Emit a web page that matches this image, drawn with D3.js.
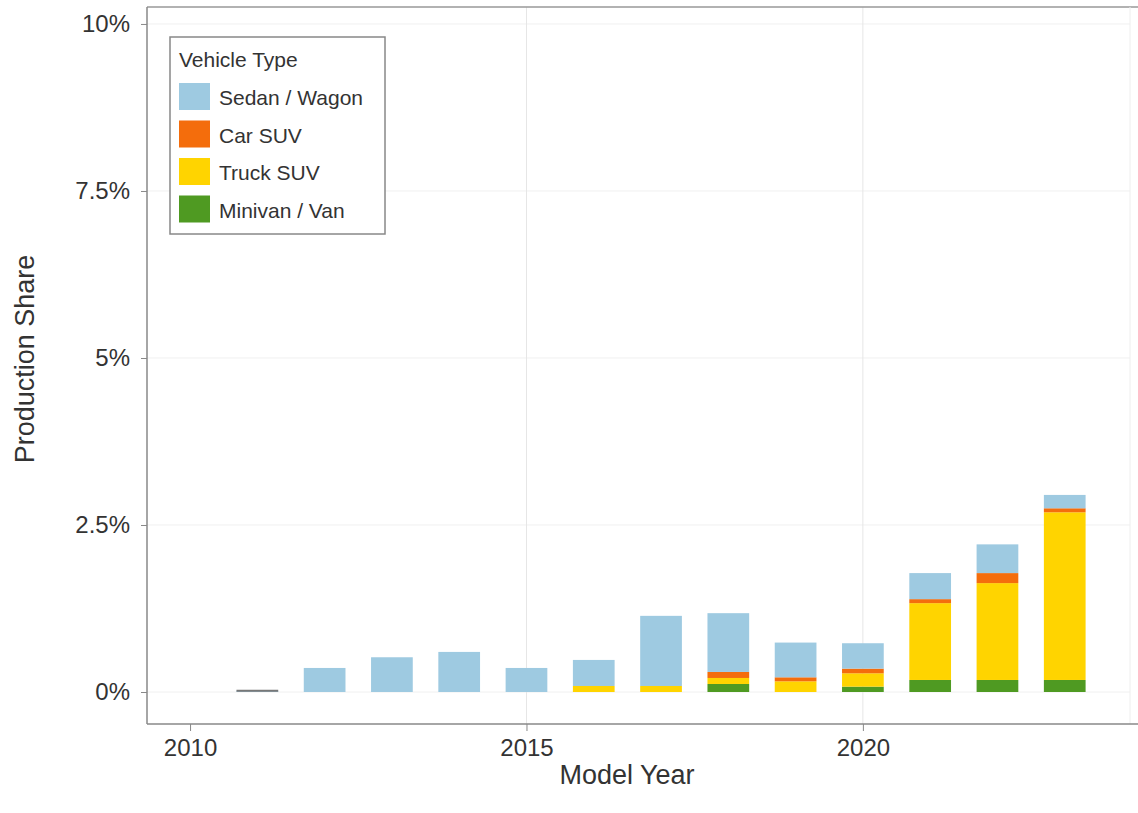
<!DOCTYPE html>
<html>
<head>
<meta charset="utf-8">
<script src="https://cdn.jsdelivr.net/npm/d3@7"></script>
<style>
  body { margin: 0; background: #fff; }
  svg text { font-family: "Liberation Sans", Arial, sans-serif; fill: #333; }
</style>
</head>
<body>
<svg id="chart" width="1138" height="813"></svg>
<script>
// ---- data (percent of production) ----
const years    = [2011, 2012, 2013, 2014, 2015, 2016, 2017, 2018, 2019, 2020, 2021, 2022, 2023];
const minivan  = [0.00, 0.00, 0.00, 0.00, 0.00, 0.00, 0.00, 0.12, 0.00, 0.08, 0.18, 0.18, 0.18];
const truckSUV = [0.00, 0.00, 0.00, 0.00, 0.00, 0.09, 0.09, 0.09, 0.16, 0.20, 1.15, 1.45, 2.51];
const carSUV   = [0.00, 0.00, 0.00, 0.00, 0.00, 0.00, 0.00, 0.09, 0.06, 0.07, 0.06, 0.15, 0.06];
const sedan    = [0.02, 0.36, 0.52, 0.60, 0.36, 0.39, 1.05, 0.88, 0.52, 0.38, 0.39, 0.43, 0.20];
const seriesNames = ["Sedan / Wagon", "Car SUV", "Truck SUV", "Minivan / Van"];
const seriesColors = ["#9ecae1", "#f46d0c", "#ffd400", "#4f9a22"];
const xTicks = [2010, 2015, 2020];
const yTicks = [0, 2.5, 5, 7.5, 10];
const yTickLabels = ["0%", "2.5%", "5%", "7.5%", "10%"];

// ---- layout ----
const svg = d3.select("#chart");
const L = 147, R = 1130, T = 7, B = 724;
const x = d3.scaleLinear().domain([2009.36, 2023.97]).range([L, R]);
const y = d3.scaleLinear().domain([-0.479, 10.254]).range([B, T]);

// gridlines
svg.append("g").selectAll("line").data(yTicks).join("line")
  .attr("x1", L).attr("x2", R).attr("y1", d => y(d)).attr("y2", d => y(d))
  .attr("stroke", "#f0f0f0").attr("stroke-width", 1);
svg.append("g").selectAll("line").data(xTicks.slice(1)).join("line")
  .attr("x1", d => x(d)).attr("x2", d => x(d)).attr("y1", T).attr("y2", B)
  .attr("stroke", "#e6e6e6").attr("stroke-width", 1);

// stacked bars
const rows = years.map((yr, i) => ({year: yr, minivan: minivan[i], truck: truckSUV[i], car: carSUV[i], sedan: sedan[i]}));
const keys = ["minivan", "truck", "car", "sedan"];
const keyColor = {minivan: seriesColors[3], truck: seriesColors[2], car: seriesColors[1], sedan: seriesColors[0]};
const stack = d3.stack().keys(keys)(rows);
const halfW = 0.31;
svg.append("g").selectAll("g").data(stack).join("g")
  .attr("fill", d => keyColor[d.key])
  .selectAll("rect").data(d => d).join("rect")
  .attr("x", d => x(d.data.year - halfW))
  .attr("width", d => x(d.data.year + halfW) - x(d.data.year - halfW))
  .attr("y", d => y(d[1]))
  .attr("height", d => Math.max(0, y(d[0]) - y(d[1])));
// outline for the tiny 2011 bar (renders as a thin dark line in the original)
svg.append("g").selectAll("line").data(rows.filter(r => r.sedan + r.car + r.truck + r.minivan < 0.05)).join("line")
  .attr("x1", d => x(d.year - halfW)).attr("x2", d => x(d.year + halfW))
  .attr("y1", d => y(d.sedan)).attr("y2", d => y(d.sedan))
  .attr("stroke", "#777").attr("stroke-width", 2);

// frame
svg.append("line").attr("x1", L).attr("x2", 1138).attr("y1", T).attr("y2", T).attr("stroke", "#999").attr("stroke-width", 1.5);
svg.append("line").attr("x1", R).attr("x2", R).attr("y1", T).attr("y2", B).attr("stroke", "#eee").attr("stroke-width", 1);

// axes
const yAxis = d3.axisLeft(y).tickValues(yTicks).tickSize(6).tickPadding(11)
  .tickFormat((d, i) => yTickLabels[i]);
const gy = svg.append("g").attr("transform", `translate(${L},0)`).call(yAxis);
gy.select(".domain").attr("stroke", "#888").attr("stroke-width", 1.5).attr("d", `M-0,${B}V${T}`);
gy.selectAll(".tick line").attr("stroke", "#888");
gy.selectAll(".tick text").attr("font-size", 24).attr("fill", "#333").style("font-family", "Liberation Sans, Arial, sans-serif");

const xAxis = d3.axisBottom(x).tickValues(xTicks).tickSize(7).tickPadding(8).tickFormat(d3.format("d"));
const gx = svg.append("g").attr("transform", `translate(0,${B})`).call(xAxis);
gx.select(".domain").attr("stroke", "#888").attr("stroke-width", 1.5).attr("d", `M${L},0H1138`);
gx.selectAll(".tick line").attr("stroke", "#888");
gx.selectAll(".tick text").attr("font-size", 24).attr("fill", "#333").style("font-family", "Liberation Sans, Arial, sans-serif");

// axis titles
svg.append("text").attr("x", 627).attr("y", 784).attr("text-anchor", "middle")
  .attr("font-size", 27).text("Model Year");
svg.append("text").attr("transform", "translate(34,359) rotate(-90)").attr("text-anchor", "middle")
  .attr("font-size", 27).text("Production Share");

// legend
const lg = svg.append("g").attr("transform", "translate(170,37)");
lg.append("rect").attr("width", 215).attr("height", 197).attr("fill", "#fff").attr("stroke", "#888").attr("stroke-width", 1.5);
lg.append("text").attr("x", 9).attr("y", 30).attr("font-size", 21).text("Vehicle Type");
const items = lg.selectAll("g.item").data(seriesNames).join("g").attr("class", "item")
  .attr("transform", (d, i) => `translate(9,${46 + i * 37.5})`);
items.append("rect").attr("width", 31).attr("height", 27).attr("fill", (d, i) => seriesColors[i]);
items.append("text").attr("x", 40).attr("y", 22).attr("font-size", 21).text(d => d);
</script>
</body>
</html>
